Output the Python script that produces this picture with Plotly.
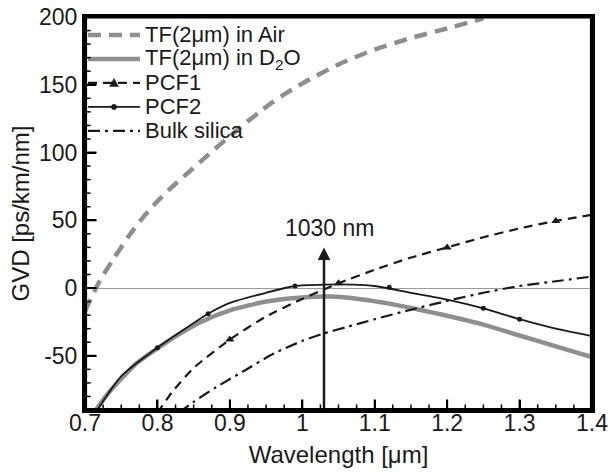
import plotly.graph_objects as go

# ---------------- data ----------------
air_wl  = [0.70, 0.72, 0.74, 0.76, 0.78, 0.80, 0.82, 0.84, 0.86, 0.88, 0.90, 0.92,
           0.94, 0.96, 0.98, 1.00, 1.05, 1.10, 1.15, 1.20, 1.25]
air_gvd = [-17, 5, 22, 38, 52, 64, 74.5, 84, 93.5, 103, 112, 121,
           129.5, 137.5, 144.5, 151, 165, 176, 184.5, 191.5, 199]

d2o_wl  = [0.715, 0.73, 0.75, 0.77, 0.80, 0.83, 0.86, 0.90, 0.95, 1.00, 1.04,
           1.08, 1.12, 1.16, 1.20, 1.25, 1.30, 1.35, 1.40]
d2o_gvd = [-90, -79, -67, -56, -44.5, -34, -25, -16.5, -10, -7, -6.3,
           -8.2, -11.5, -15.8, -20.5, -27, -35, -43, -51]

pcf1_wl  = [0.80, 0.82, 0.85, 0.90, 0.95, 1.00, 1.03, 1.05, 1.10, 1.15, 1.20,
            1.25, 1.30, 1.35, 1.40]
pcf1_gvd = [-92, -77, -59, -38, -21, -8, -1, 3.5, 13.5, 22.5, 30,
            37.5, 44, 49.5, 54]
pcf1_mk_wl  = [0.90, 1.05, 1.20, 1.35]
pcf1_mk_gvd = [-38, 3.5, 30, 49.5]

pcf2_wl  = [0.717, 0.75, 0.80, 0.87, 0.90, 0.95, 0.99, 1.03, 1.07, 1.10, 1.15,
            1.20, 1.25, 1.30, 1.35, 1.40]
pcf2_gvd = [-90, -65, -44, -19, -11, -3.5, 1.5, 2.5, 2.5, 1.5, -3.5,
            -8.5, -15, -23, -30, -35.5]
pcf2_mk_wl  = [0.80, 0.87, 0.99, 1.12, 1.25, 1.30]
pcf2_mk_gvd = [-44, -19, 1.5, 0.5, -15, -23]

bulk_wl  = [0.83, 0.85, 0.88, 0.92, 0.96, 1.00, 1.03, 1.06, 1.10, 1.15, 1.20,
            1.25, 1.30, 1.35, 1.40]
bulk_gvd = [-92, -84, -73.5, -61, -48.5, -39, -33.5, -29, -23, -16, -9.5,
            -3.5, 1.5, 5, 8.5]

legend_labels = ["TF(2\u03bcm) in Air", "TF(2\u03bcm) in D<sub>2</sub>O",
                 "PCF1", "PCF2", "Bulk silica"]

x_tickvals = [0.7, 0.8, 0.9, 1.0, 1.1, 1.2, 1.3, 1.4]
x_ticktext = ["0.7", "0.8", "0.9", "1", "1.1", "1.2", "1.3", "1.4"]
x_minor_tickvals = [0.725, 0.75, 0.775, 0.825, 0.85, 0.875, 0.925, 0.95, 0.975,
                    1.025, 1.05, 1.075, 1.125, 1.15, 1.175, 1.225, 1.25, 1.275,
                    1.325, 1.35, 1.375]
y_tickvals = [-50, 0, 50, 100, 150, 200]
y_ticktext = ["-50", "0", "50", "100", "150", "200"]
y_minor_tickvals = [-90, -80, -70, -60, -40, -30, -20, -10, 10, 20, 30, 40,
                    60, 70, 80, 90, 110, 120, 130, 140, 160, 170, 180, 190]

marker_wl_1030 = 1.03
arrow_top_gvd = 30
label_1030 = "1030 nm"

# ---------------- styles ----------------
GRAY = "#8e8e8e"
BLACK = "#1a1a1a"
FONT = "Liberation Sans, Arial, sans-serif"

styles = [
    dict(color=GRAY, width=4.5, dash="13px,8px"),
    dict(color=GRAY, width=4.5, dash="solid"),
    dict(color=BLACK, width=2.2, dash="9px,6px"),
    dict(color=BLACK, width=1.8, dash="solid"),
    dict(color=BLACK, width=2.2, dash="12px,5px,3px,5px"),
]
markers = [None, None,
           dict(symbol="triangle-up", size=8, color=BLACK),
           dict(symbol="circle", size=5, color=BLACK),
           None]

fig = go.Figure()

curves = [(air_wl, air_gvd), (d2o_wl, d2o_gvd), (pcf1_wl, pcf1_gvd),
          (pcf2_wl, pcf2_gvd), (bulk_wl, bulk_gvd)]
for (xs, ys), st, name in zip(curves, styles, legend_labels):
    fig.add_trace(go.Scatter(x=xs, y=ys, mode="lines",
                             line=dict(**st, shape="spline", smoothing=0.6),
                             name=name, showlegend=False, hoverinfo="skip"))

fig.add_trace(go.Scatter(x=pcf1_mk_wl, y=pcf1_mk_gvd, mode="markers",
                         marker=markers[2], showlegend=False, hoverinfo="skip"))
fig.add_trace(go.Scatter(x=pcf2_mk_wl, y=pcf2_mk_gvd, mode="markers",
                         marker=markers[3], showlegend=False, hoverinfo="skip"))

# ---------------- geometry helpers ----------------
PLOT_L, PLOT_R, PLOT_T, PLOT_B = 85, 592, 17, 410.5
W, H = 608, 472
PW, PH = PLOT_R - PLOT_L, PLOT_B - PLOT_T


def py2paper(py):
    return (PLOT_B - py) / PH


def px2paper(px):
    return (px - PLOT_L) / PW


# ---------------- hand-built legend (tight rows like the reference) ----------------
row_px = [35, 59, 83, 107, 131]
SAMPLE_X0, SAMPLE_X1, TEXT_X = 88, 140, 143

for i, (st, name) in enumerate(zip(styles, legend_labels)):
    yy = py2paper(row_px[i])
    fig.add_shape(type="line", xref="paper", yref="paper",
                  x0=px2paper(SAMPLE_X0), x1=px2paper(SAMPLE_X1), y0=yy, y1=yy,
                  line=st, layer="above")
    if i == 2:  # triangle sample
        fig.add_shape(type="path", xref="paper", yref="paper",
                      xsizemode="pixel", ysizemode="pixel",
                      xanchor=px2paper((SAMPLE_X0 + SAMPLE_X1) / 2), yanchor=yy,
                      path="M-4.5,-3.5 L4.5,-3.5 L0,4.5 Z",
                      fillcolor=BLACK, line=dict(color=BLACK, width=0.5), layer="above")
    if i == 3:  # dot sample
        fig.add_shape(type="circle", xref="paper", yref="paper",
                      xsizemode="pixel", ysizemode="pixel",
                      xanchor=px2paper((SAMPLE_X0 + SAMPLE_X1) / 2), yanchor=yy,
                      x0=-2.6, x1=2.6, y0=-2.6, y1=2.6,
                      fillcolor=BLACK, line=dict(color=BLACK, width=0.5), layer="above")
    fig.add_annotation(x=px2paper(TEXT_X), y=yy, xref="paper", yref="paper", text=name,
                       showarrow=False, xanchor="left", yanchor="middle",
                       font=dict(family=FONT, size=22, color=BLACK))

# ---------------- frame and inward ticks as shapes (slightly inset) ----------------
INSET = 0.6
fx0, fx1 = px2paper(PLOT_L + INSET), px2paper(PLOT_R - INSET)
fy0, fy1 = py2paper(PLOT_B - INSET), py2paper(PLOT_T + INSET)
frame_w = [3, 2, 3, 3]  # bottom, top, left, right
for (a, b, c, d), lw in zip([(fx0, fy0, fx1, fy0), (fx0, fy1, fx1, fy1),
                             (fx0, fy0, fx0, fy1), (fx1, fy0, fx1, fy1)], frame_w):
    fig.add_shape(type="line", xref="paper", yref="paper", x0=a, y0=b, x1=c, y1=d,
                  line=dict(color="black", width=lw), layer="above")

for vals, ln, lw in [(x_tickvals, 10, 2), (x_minor_tickvals, 5, 1.5)]:
    for v in vals:
        fig.add_shape(type="line", xref="x", yref="paper", x0=v, x1=v,
                      y0=fy0, y1=fy0 + ln / PH, line=dict(color="black", width=lw),
                      layer="above")
for vals, ln, lw in [(y_tickvals, 11, 2), (y_minor_tickvals, 5, 1.5)]:
    for v in vals:
        fig.add_shape(type="line", xref="paper", yref="y", y0=v, y1=v,
                      x0=fx0, x1=fx0 + ln / PW, line=dict(color="black", width=lw),
                      layer="above")

# ---------------- 1030 nm arrow ----------------
fig.add_annotation(x=marker_wl_1030, y=arrow_top_gvd, ax=marker_wl_1030, ay=-90,
                   xref="x", yref="y", axref="x", ayref="y", text="",
                   showarrow=True, arrowhead=2, arrowsize=1, arrowwidth=2.5,
                   arrowcolor=BLACK)
fig.add_annotation(x=1.038, y=44, xref="x", yref="y", text=label_1030, showarrow=False,
                   font=dict(family=FONT, size=23, color=BLACK))

axis_common = dict(showline=True, linewidth=3, linecolor="black", mirror=True,
                   ticks="inside", tickcolor="black", showgrid=False, automargin=False,
                   ticklabeloverflow="allow",
                   tickfont=dict(family=FONT, size=23, color=BLACK))

fig.update_layout(
    template="none",
    width=W, height=H,
    margin=dict(l=PLOT_L, r=W - PLOT_R, t=PLOT_T, b=H - PLOT_B),
    paper_bgcolor="rgba(0,0,0,0)", plot_bgcolor="rgba(0,0,0,0)",
    showlegend=False,
    xaxis=dict(range=[0.7, 1.4], tickmode="array", tickvals=x_tickvals, ticktext=x_ticktext,
               ticklen=10, tickwidth=2, ticklabelstandoff=-10,
               zeroline=False,
               title=dict(text="Wavelength [\u03bcm]",
                          font=dict(family=FONT, size=24, color=BLACK), standoff=12),
               **axis_common),
    yaxis=dict(range=[-90, 200], tickmode="array", tickvals=y_tickvals, ticktext=y_ticktext,
               ticklen=11, tickwidth=2,
               zeroline=True, zerolinecolor="#9a9a9a", zerolinewidth=1,
               title=dict(text="GVD [ps/km/nm]",
                          font=dict(family=FONT, size=24, color=BLACK), standoff=3),
               **axis_common),
)

fig.write_html("out.html")
